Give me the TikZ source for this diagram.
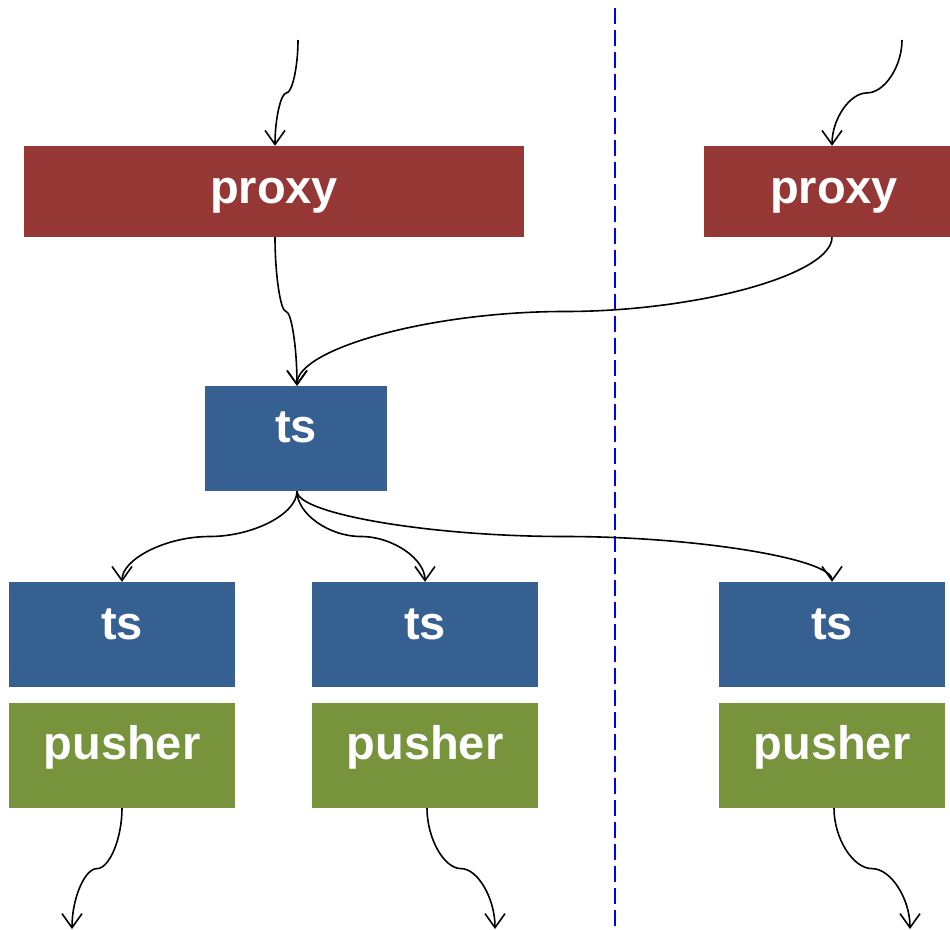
\documentclass[tikz,border=0pt]{standalone}
\usepackage{fontspec}
\setmainfont{Liberation Sans}
\usetikzlibrary{arrows.meta,calc}
\definecolor{proxyred}{HTML}{953735}
\definecolor{tsblue}{HTML}{376092}
\definecolor{pushergreen}{HTML}{77933C}
\tikzset{
	box/.style={inner sep=0pt, text=white, font=\fontsize{47}{50}\selectfont\bfseries, text depth=0pt},
	proxybox/.style={box, fill=proxyred, minimum height=91pt, text height=23pt},
	tsbox/.style={box, fill=tsblue, minimum height=105pt, text height=9pt},
	pusherbox/.style={box, fill=pushergreen, minimum height=105pt, text height=7pt},
	conn/.style={line width=1.6pt, -{Straight Barb[length=14pt,width=20pt,line width=1.6pt]}},
	scurve/.style={to path={let \p1=(\tikztostart), \p2=(\tikztotarget) in
		.. controls (\x1,{0.75*\y1+0.25*\y2}) and ({0.75*\x1+0.25*\x2},{0.5*\y1+0.5*\y2})
		.. ({0.5*\x1+0.5*\x2},{0.5*\y1+0.5*\y2})
		.. controls ({0.25*\x1+0.75*\x2},{0.5*\y1+0.5*\y2}) and (\x2,{0.25*\y1+0.75*\y2})
		.. (\x2,\y2) \tikztonodes}}
}
\begin{document}
\begin{tikzpicture}[x=1pt, y=-1pt]
		\useasboundingbox (0,0) rectangle (950,929);
		
		% Define the two proxies
		\node[proxybox, minimum width=500pt] (Proxy1) at (274,191.5) {proxy};
		\node[proxybox, minimum width=260pt] (Proxy2) at (834,191.5) {proxy};
		
		% Define the middle ts
		\node[tsbox, minimum width=182pt, text height=7pt] (Ts0) at (296,438.5) {ts};
		
		% Define ts and pusher rows
		\node[tsbox, minimum width=226pt] (Ts1) at (122,634.5) {ts};
		\node[tsbox, minimum width=226pt] (Ts2) at (425,634.5) {ts};
		\node[tsbox, minimum width=226pt] (Ts3) at (832,634.5) {ts};
		\node[pusherbox, minimum width=226pt] (Pusher1) at (122,755.5) {pusher};
		\node[pusherbox, minimum width=226pt] (Pusher2) at (425,755.5) {pusher};
		\node[pusherbox, minimum width=226pt] (Pusher3) at (832,755.5) {pusher};
		
		% Free ends
		\coordinate (Start1) at (298,40);
		\coordinate (Start2) at (902,40);
		\coordinate (End1) at (72,929);
		\coordinate (End2) at (495,929);
		\coordinate (End3) at (910,929);
		
		% Divider
		\coordinate (LineTop) at (615,8);
		\coordinate (LineBottom) at (615,929);
		\draw[blue, line width=1.8pt, dash pattern=on 16pt off 6pt] (LineTop) -- (LineBottom);
		
		% Into the proxies
		\draw[conn] (Start1) to[scurve] ([xshift=1pt]Proxy1.north);
		\draw[conn] (Start2) to[scurve] ([xshift=-2pt]Proxy2.north);
		
		% Proxies to ts
		\draw[conn] ([xshift=1pt]Proxy1.south) to[scurve] ([xshift=1pt]Ts0.north);
		\draw[conn] ([xshift=-2pt]Proxy2.south) to[scurve] ([xshift=1pt]Ts0.north);
		
		% ts to ts
		\draw[conn] ([xshift=1pt]Ts0.south) to[scurve] (Ts1.north);
		\draw[conn] ([xshift=1pt]Ts0.south) to[scurve] (Ts2.north);
		\draw[conn] ([xshift=1pt]Ts0.south) to[scurve] (Ts3.north);
		
		% Out of the pushers
		\draw[conn] (Pusher1.south) to[scurve] (End1);
		\draw[conn] ([xshift=2pt]Pusher2.south) to[scurve] (End2);
		\draw[conn] ([xshift=2pt]Pusher3.south) to[scurve] (End3);
	\end{tikzpicture}
\end{document}
